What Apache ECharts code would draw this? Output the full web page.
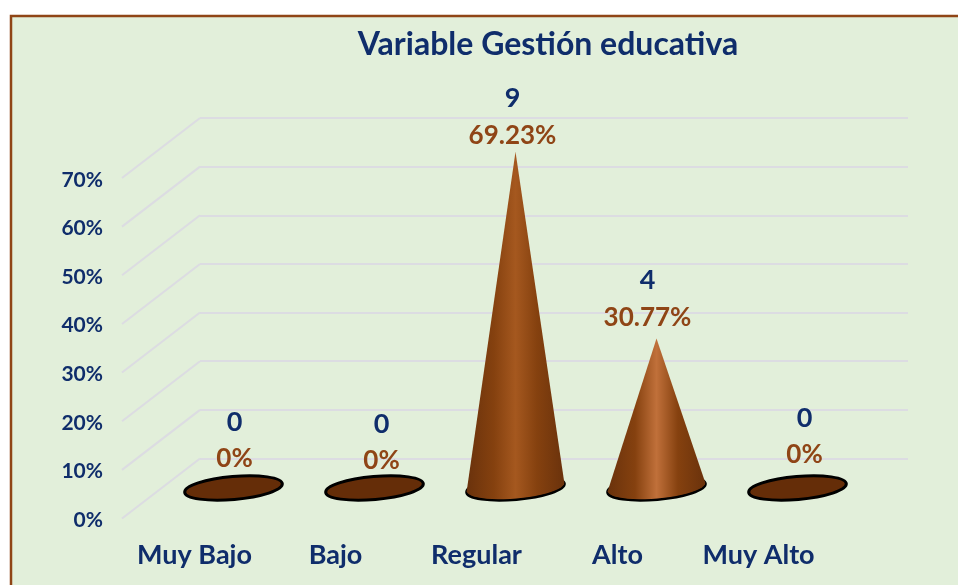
<!DOCTYPE html>
<html>
<head>
<meta charset="utf-8">
<title>Variable Gestión educativa</title>
<style>
    html, body { margin: 0; padding: 0; background: #ffffff; overflow: hidden; }
    #chart { width: 958px; height: 585px; }
</style>
<script src="https://cdn.jsdelivr.net/npm/echarts@6/dist/echarts.min.js"></script>
</head>
<body>
<div id="chart"></div>
<script>
// data
const categories = ['Muy Bajo', 'Bajo', 'Regular', 'Alto', 'Muy Alto'];
const counts = [0, 0, 9, 4, 0];
const percents = [0, 0, 0.6923, 0.3077, 0];
const percentLabels = ['0%', '0%', '69.23%', '30.77%', '0%'];
const yTicks = [0, 0.1, 0.2, 0.3, 0.4, 0.5, 0.6, 0.7];

const NAVY = '#0f2d6b';
const BROWN = '#8f4516';
const GRID_LINE = '#dcdce2';
const FONT = 'Lato';

// fake 3d: depth offset between the back wall and the front plane
const DEPTH_X = -78;
const DEPTH_Y = 60;
const BASE_RX = 49;
const BASE_RY = 11.5;
const BASE_TILT = 5 * Math.PI / 180;
// labels sit a little off the cone axis in the original
const labelDx = [1, 7, -3, -9, 7];
const labelDy = [-31, -29, -18, -23, -35];
const highlights = ['#a0561f', '#a0561f', '#a5581f', '#c0703a', '#a0561f'];

function renderCone(params, api) {
    const i = params.dataIndex;
    const value = api.value(1);
    const base = api.coord([i, 0]);
    const tip = api.coord([i, value]);
    const children = [{
        type: 'ellipse',
        x: base[0],
        y: base[1],
        rotation: BASE_TILT,
        shape: { cx: 0, cy: 0, rx: BASE_RX, ry: BASE_RY },
        style: { fill: '#652d08', stroke: '#000000', lineWidth: 3 },
    }];
    if (value > 0) {
        // tip, then round the front half of the base
        const points = [tip];
        for (let a = 0; a <= 24; a++) {
            const t = Math.PI - (a / 24) * Math.PI;
            const ex = BASE_RX * Math.cos(t);
            const ey = BASE_RY * Math.sin(t);
            points.push([
                base[0] + ex * Math.cos(BASE_TILT) + ey * Math.sin(BASE_TILT),
                base[1] - ex * Math.sin(BASE_TILT) + ey * Math.cos(BASE_TILT) - 1,
            ]);
        }
        children.push({
            type: 'polygon',
            shape: { points: points },
            style: {
                fill: {
                    type: 'linear',
                    x: 0,
                    y: 0,
                    x2: 1,
                    y2: 0,
                    colorStops: [
                        { offset: 0, color: '#6a320c' },
                        { offset: 0.28, color: '#85410f' },
                        { offset: 0.5, color: highlights[i] },
                        { offset: 0.72, color: '#85410f' },
                        { offset: 1, color: '#6a320c' },
                    ],
                },
            },
        });
    }
    const labelX = tip[0] + labelDx[i];
    const labelY = tip[1] + labelDy[i] + 2;
    children.push({
        type: 'text',
        x: labelX,
        y: labelY,
        style: {
            text: percentLabels[i],
            fill: BROWN,
            font: 'bold 26px ' + FONT,
            align: 'center',
            verticalAlign: 'middle',
        },
    });
    children.push({
        type: 'text',
        x: labelX,
        y: labelY - 37,
        style: {
            text: String(counts[i]),
            fill: NAVY,
            font: 'bold 27px ' + FONT,
            align: 'center',
            verticalAlign: 'middle',
        },
    });
    return { type: 'group', children: children };
}

// slanted wall line, from the back wall towards the front plane
function renderSideLine(params, api) {
    const y = api.coord([0, api.value(1)])[1];
    const x = params.coordSys.x;
    return {
        type: 'line',
        shape: { x1: x, y1: y, x2: x + DEPTH_X, y2: y + DEPTH_Y },
        style: { stroke: GRID_LINE, lineWidth: 2 },
    };
}

const hiddenCategory = function (gridIndex) {
    return {
        type: 'category',
        gridIndex: gridIndex,
        data: categories,
        axisLine: { show: false },
        axisTick: { show: false },
        axisLabel: { show: false },
    };
};
const valueAxis = function (gridIndex) {
    return {
        type: 'value',
        gridIndex: gridIndex,
        min: 0,
        max: 0.7,
        interval: 0.1,
        axisLine: { show: false },
        axisTick: { show: false },
        axisLabel: { show: false },
        splitLine: { show: false },
    };
};

const frontX = hiddenCategory(0);
frontX.axisLabel = {
    show: true,
    interval: 0,
    margin: 22,
    color: NAVY,
    fontFamily: FONT,
    fontWeight: 'bold',
    fontSize: 27,
};
const frontY = valueAxis(0);
frontY.axisLabel = {
    show: true,
    margin: 21,
    color: NAVY,
    fontFamily: FONT,
    fontWeight: 'bold',
    fontSize: 21,
    formatter: function (v) {
        return Math.round(v * 100) + '%';
    },
};
const backY = valueAxis(1);
backY.splitLine = { show: true, lineStyle: { color: GRID_LINE, width: 2 } };

const option = {
    animation: false,
    backgroundColor: '#ffffff',
    title: {
        text: 'Variable Gestión educativa',
        left: 543,
        top: 24,
        textAlign: 'center',
        textStyle: { color: NAVY, fontFamily: FONT, fontWeight: 'bold', fontSize: 32 },
    },
    graphic: [{
        type: 'rect',
        z: -10,
        shape: { x: 11, y: 16, width: 1100, height: 800 },
        style: { fill: '#e2efda', stroke: '#8f4516', lineWidth: 2.5 },
    }],
    grid: [
        { left: 124, top: 180, width: 705, height: 340 },
        { left: 200, top: 118, width: 708, height: 340.5 },
        { left: 163, top: 148, width: 705, height: 340 },
    ],
    xAxis: [frontX, hiddenCategory(1), hiddenCategory(2)],
    yAxis: [frontY, backY, valueAxis(2)],
    series: [
        {
            type: 'custom',
            xAxisIndex: 1,
            yAxisIndex: 1,
            renderItem: renderSideLine,
            data: yTicks.map(function (v) {
                return [0, v];
            }),
            silent: true,
            clip: false,
            z: 1,
        },
        {
            type: 'custom',
            xAxisIndex: 2,
            yAxisIndex: 2,
            renderItem: renderCone,
            data: percents.map(function (v, i) {
                return [i, v];
            }),
            silent: true,
            clip: false,
            z: 5,
        },
    ],
};

const chart = echarts.init(document.getElementById('chart'));
chart.setOption(option);
</script>
</body>
</html>
